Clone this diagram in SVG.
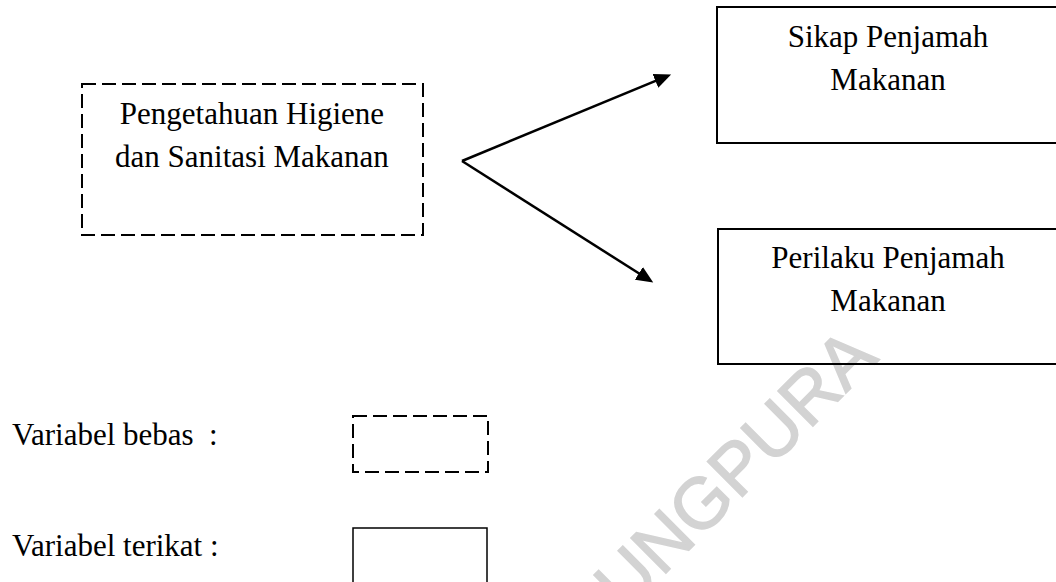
<svg xmlns="http://www.w3.org/2000/svg" width="1056" height="582" viewBox="0 0 1056 582">
<style>
  .t { font-family: "Liberation Serif", "Times New Roman", serif; font-size: 31px; fill: #000; }
  .dash { fill: none; stroke: #000; stroke-width: 2; stroke-dasharray: 14 6; }
  .solid { fill: none; stroke: #000; stroke-width: 2; }
  .conn { fill: none; stroke: #000; stroke-width: 2.5; }
  .wm { font-family: "Liberation Sans", Arial, sans-serif; font-size: 72px; fill: #d3d3d3; stroke: #d3d3d3; stroke-width: 1.5; }
</style>
<defs>
  <marker id="arrow" markerUnits="userSpaceOnUse" markerWidth="18" markerHeight="16" viewBox="0 0 18 16" refX="12" refY="8" orient="auto">
    <path d="M0,0.5 L17,8 L0,15.5 z" fill="#000"/>
  </marker>
</defs>
<rect width="1056" height="582" fill="#fff"/>
<text class="wm" x="625" y="614" transform="rotate(-45 625 614)">UNGPURA</text>

<g id="pengetahuan">
  <rect class="dash" x="82" y="84" width="341" height="151"/>
  <text class="t" x="252" y="124" text-anchor="middle">Pengetahuan Higiene</text>
  <text class="t" x="252" y="167" text-anchor="middle">dan Sanitasi Makanan</text>
</g>

<g id="sikap">
  <rect class="solid" x="717" y="7" width="342" height="136"/>
  <text class="t" x="888" y="47" text-anchor="middle">Sikap Penjamah</text>
  <text class="t" x="888" y="90" text-anchor="middle">Makanan</text>
</g>

<g id="perilaku">
  <rect class="solid" x="718" y="229" width="342" height="135"/>
  <text class="t" x="888" y="268" text-anchor="middle">Perilaku Penjamah</text>
  <text class="t" x="888" y="311" text-anchor="middle">Makanan</text>
</g>

<g id="connectors">
  <line class="conn" x1="462" y1="161" x2="666.5" y2="76.3" marker-end="url(#arrow)"/>
  <line class="conn" x1="462" y1="161" x2="649" y2="279.8" marker-end="url(#arrow)"/>
</g>

<g id="legend-bebas">
  <text class="t" x="12" y="445" xml:space="preserve">Variabel bebas  :</text>
  <rect class="dash" x="353" y="416" width="135" height="56"/>
</g>

<g id="legend-terikat">
  <text class="t" x="12" y="556">Variabel terikat :</text>
  <rect class="solid" style="stroke-width:1.5" x="353" y="528" width="134" height="70"/>
</g>
</svg>
